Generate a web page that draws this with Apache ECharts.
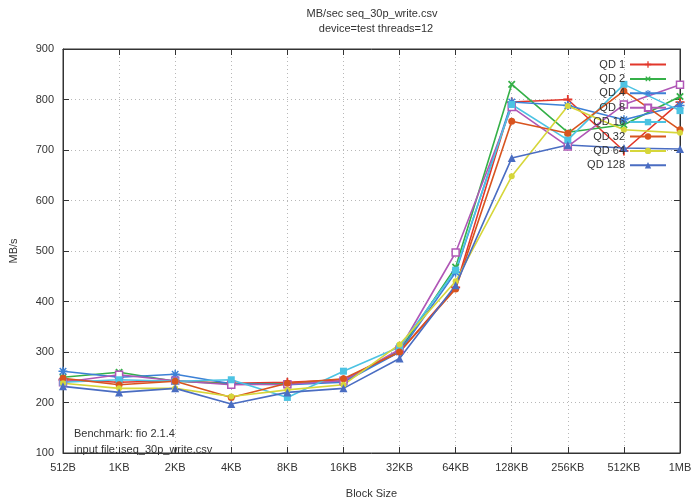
<!DOCTYPE html>
<html><head><meta charset="utf-8">
<script src="https://cdn.jsdelivr.net/npm/echarts@6/dist/echarts.min.js"></script>
<style>html,body{margin:0;padding:0;background:#fff}#c{width:699px;height:504px}</style>
</head><body><div id="c"></div>
<script>
const categories = ['512B','1KB','2KB','4KB','8KB','16KB','32KB','64KB','128KB','256KB','512KB','1MB'];
const seriesNames = ['QD 1','QD 2','QD 4','QD 8','QD 16','QD 32','QD 64','QD 128'];
const qd1   = [245, 240, 243, 238, 240, 245, 300, 428, 795, 800, 698, 795];
const qd2   = [250, 260, 242, 237, 237, 242, 303, 468, 830, 735, 750, 806];
const qd4   = [262, 250, 256, 237, 235, 240, 300, 458, 795, 788, 760, 788];
const qd8   = [240, 255, 243, 235, 236, 243, 305, 497, 785, 707, 790, 829];
const qd16  = [240, 245, 242, 245, 210, 262, 310, 462, 790, 720, 830, 778];
const qd32  = [248, 235, 242, 210, 238, 247, 300, 425, 757, 733, 817, 740];
const qd64  = [238, 228, 228, 212, 225, 235, 315, 440, 648, 787, 740, 734];
const qd128 = [232, 220, 228, 197, 220, 228, 287, 432, 684, 710, 704, 702];
const yTicks = [100, 900, 100]; // min, max, interval

const allData = [qd1, qd2, qd4, qd8, qd16, qd32, qd64, qd128];
const colors = ['#e2372b','#35b048','#3c80d6','#b057b6','#4cc3e3','#d8541f','#d6d63a','#4a6dc2'];
const plusPath = 'path://M3.2,0h1.6v3.2h3.2v1.6h-3.2v3.2h-1.6v-3.2h-3.2v-1.6h3.2z';
const starPath = 'path://M3.3,0h1.4v2.6l1.9-1.9l1,1l-1.9,1.9h2.6v1.4h-2.6l1.9,1.9l-1,1l-1.9-1.9v2.6h-1.4v-2.6l-1.9,1.9l-1-1l1.9-1.9h-2.6v-1.4h2.6l-1.9-1.9l1-1l1.9,1.9z';
const symbols = [plusPath, plusPath, starPath, 'rect', 'rect', 'circle', 'circle', 'triangle'];
const rotations = [0, 45, 0, 0, 0, 0, 0, 0];
const sizes = [9, 9, 9, 7, 7, 7, 6, 8];

const series = seriesNames.map((n, i) => ({
  name: n,
  type: 'line',
  data: allData[i],
  symbol: symbols[i],
  symbolRotate: rotations[i],
  symbolSize: sizes[i],
  showAllSymbol: true,
  lineStyle: { color: colors[i], width: 1.6 },
  itemStyle: i === 3 ? { color: '#ffffff', borderColor: colors[i], borderWidth: 1.5 } : { color: colors[i], borderWidth: 0 },
  emphasis: { disabled: true },
  animation: false
}));

const chart = echarts.init(document.getElementById('c'), null, { renderer: 'canvas' });
const txt = { color: '#333', fontFamily: 'Liberation Sans, Arial, sans-serif', fontSize: 11 };
const font = '11px Liberation Sans, Arial, sans-serif';
chart.setOption({
  animation: false,
  backgroundColor: '#fff',
  textStyle: { fontFamily: 'Liberation Sans, Arial, sans-serif' },
  grid: { left: 62, right: 19, top: 49, bottom: 42, show: true, borderColor: '#333', borderWidth: 1, containLabel: false },
  legend: {
    data: seriesNames,
    orient: 'vertical',
    right: 27,
    top: 54,
    align: 'right',
    itemWidth: 36,
    itemHeight: 8,
    itemGap: 3.4,
    textStyle: txt,
    selectedMode: false,
    backgroundColor: 'transparent'
  },
  xAxis: [{
    type: 'category',
    data: categories,
    boundaryGap: false,
    name: 'Block Size',
    nameLocation: 'middle',
    nameGap: 35,
    nameTextStyle: txt,
    axisLine: { lineStyle: { color: '#333' } },
    axisTick: { inside: true, length: 6, lineStyle: { color: '#333' } },
    axisLabel: Object.assign({}, txt, { margin: 9 }),
    splitLine: { show: true, lineStyle: { color: '#b8b8b8', type: [1, 3] } }
  }, {
    type: 'category',
    data: categories,
    boundaryGap: false,
    position: 'top',
    axisLine: { lineStyle: { color: '#333' } },
    axisTick: { inside: true, length: 6, lineStyle: { color: '#333' } },
    axisLabel: { show: false }
  }],
  yAxis: [{
    type: 'value',
    min: yTicks[0], max: yTicks[1], interval: yTicks[2],
    name: 'MB/s',
    nameLocation: 'middle',
    nameGap: 44,
    nameTextStyle: txt,
    axisLine: { show: true, lineStyle: { color: '#333' } },
    axisTick: { show: true, inside: true, length: 6, lineStyle: { color: '#333' } },
    axisLabel: Object.assign({}, txt, { margin: 9 }),
    splitLine: { show: true, lineStyle: { color: '#b8b8b8', type: [1, 3] } }
  }, {
    type: 'value',
    min: yTicks[0], max: yTicks[1], interval: yTicks[2],
    position: 'right',
    axisLine: { show: true, lineStyle: { color: '#333' } },
    axisTick: { show: true, inside: true, length: 6, lineStyle: { color: '#333' } },
    axisLabel: { show: false },
    splitLine: { show: false }
  }],
  graphic: [
    { type: 'text', x: 372, y: 8, style: { text: 'MB/sec seq_30p_write.csv', align: 'center', fill: '#333', font: font } },
    { type: 'text', x: 376, y: 23, style: { text: 'device=test threads=12', align: 'center', fill: '#333', font: font } },
    { type: 'text', x: 74, y: 428, style: { text: 'Benchmark: fio 2.1.4', fill: '#333', font: font } },
    { type: 'text', x: 74, y: 444, style: { text: 'input file: seq_30p_write.csv', fill: '#333', font: font } }
  ],
  series: series
});
</script></body></html>
